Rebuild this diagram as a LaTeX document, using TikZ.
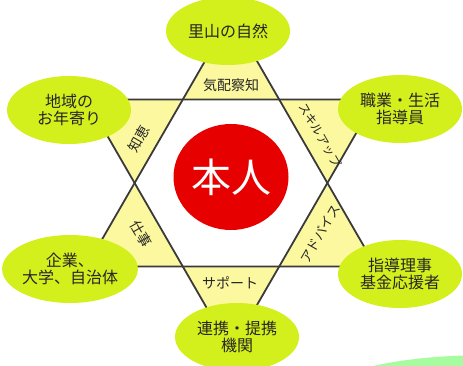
\documentclass[tikz,border=0pt]{standalone}
\usepackage{fontspec}
\usepackage{xcolor}
\usepackage{tikz}
\usetikzlibrary{shapes.geometric}
\setmainfont{Noto Sans CJK JP}

\definecolor{leaf}{HTML}{D4F01C}
\definecolor{pale}{HTML}{FCF8A0}
\definecolor{rim}{HTML}{3A3A3A}
\definecolor{sun}{HTML}{E60000}
\definecolor{swoosh}{HTML}{A8FCA0}

\tikzset{
	actor/.style={ellipse, fill=leaf, minimum width=124pt, minimum height=68pt, inner sep=0pt, align=center, font=\fontsize{16}{17}\selectfont, text=black!85},
	gift/.style={font=\fontsize{14}{15}\selectfont, inner sep=0pt, text=black!85},
	starline/.style={draw=rim, line width=1.8pt, line join=miter},
}

\begin{document}
\begin{tikzpicture}[x=1pt,y=-1pt]
	\useasboundingbox (0,0) rectangle (463,366);
	% star points
	\coordinate (u1) at (231,16);
	\coordinate (u2) at (86.4,266.5);
	\coordinate (u3) at (375.6,266.5);
	\coordinate (d1) at (86.4,99.5);
	\coordinate (d2) at (375.6,99.5);
	\coordinate (d3) at (231,350);
	\fill[pale, even odd rule] (u1) -- (u2) -- (u3) -- cycle (d1) -- (d2) -- (d3) -- cycle;
	\draw[starline] (u1) -- (u2) -- (u3) -- cycle;
	\draw[starline] (d1) -- (d2) -- (d3) -- cycle;
	\fill[swoosh] (373,366) .. controls (405,359) and (435,356.5) .. (463,355.5) -- (463,366) -- cycle;

	\node[ellipse, fill=sun, minimum width=115pt, minimum height=106pt, inner sep=0pt, text=white, font=\fontsize{40}{40}\selectfont] at (231,177) (0) {本人};

	\node[actor] at (228,31) (1) {里山の自然};
	\node[actor] at (400,109) (2) {職業・生活\\指導員};
	\node[actor] at (400,274) (3) {指導理事\\基金応援者};
	\node[actor] at (237,337) (4) {連携・提携\\機関};
	\node[actor] at (70,269) (5) {企業、\\大学、自治体};
	\node[actor] at (69,110) (6) {地域の\\お年寄り};

	\node[gift] at (231,85) (a) {気配察知};
	\node[gift, rotate=-60, font=\fontsize{12}{13}\selectfont] at (320,135) (b) {スキルアップ};
	\node[gift, rotate=60, font=\fontsize{13}{14}\selectfont] at (320,234) (c) {アドバイス};
	\node[gift] at (230,283) (d) {サポート};
	\node[gift, rotate=-60] at (141,234) (e) {仕事};
	\node[gift, rotate=60] at (139,139) (f) {知恵};
\end{tikzpicture}
\end{document}
